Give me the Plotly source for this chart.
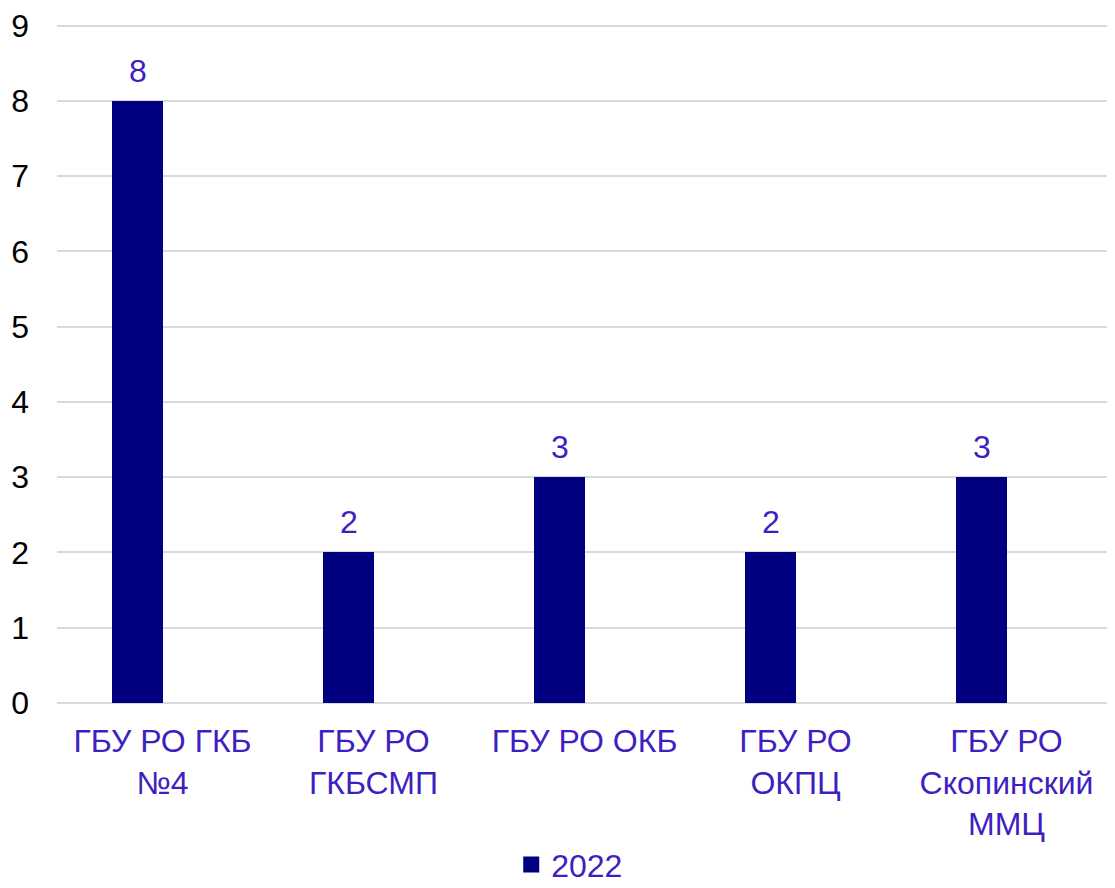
import plotly.graph_objects as go

categories = ["ГБУ РО ГКБ<br>№4", "ГБУ РО<br>ГКБСМП", "ГБУ РО ОКБ", "ГБУ РО<br>ОКПЦ", "ГБУ РО<br>Скопинский<br>ММЦ"]
values_2022 = [8, 2, 3, 2, 3]
series_name = "2022"
y_ticks = [0, 1, 2, 3, 4, 5, 6, 7, 8, 9]

BAR = "#000080"
TXT = "#3F1FBF"
FONT = "Liberation Sans, Arial, sans-serif"
FS = 32

fig = go.Figure()
fig.add_trace(go.Bar(
    x=categories, y=values_2022, name=series_name,
    marker=dict(color=BAR, line=dict(width=0)),
    width=0.237, offset=-0.237,
    showlegend=False,
))
# legend entry with a larger square swatch
fig.add_trace(go.Scatter(
    x=[None], y=[None], mode="markers", name=series_name,
    marker=dict(symbol="square", size=17, color=BAR),
    showlegend=True,
))
for c, v in zip(categories, values_2022):
    fig.add_annotation(x=c, y=v, text=str(v), showarrow=False,
                       xshift=-25, yshift=30, font=dict(color=TXT, size=FS, family=FONT))

fig.update_layout(
    width=1115, height=905,
    margin=dict(l=49, r=11, t=16, b=210),
    paper_bgcolor="white", plot_bgcolor="white",
    font=dict(family=FONT, size=FS, color="black"),
    showlegend=True,
    legend=dict(orientation="h", x=0.486, xanchor="center", y=-0.238, yanchor="middle",
                font=dict(color=TXT, size=FS, family=FONT), itemwidth=30),
    bargap=0,
)
fig.update_xaxes(showgrid=False, showline=False, ticks="", tickfont=dict(color=TXT, size=FS),
                 tickangle=0, automargin=False, ticklabelstandoff=16)
fig.update_yaxes(range=[0, 9.02], tickvals=y_ticks, showgrid=True, gridcolor="#d9d9d9", gridwidth=1.5,
                 zeroline=True, zerolinecolor="#d9d9d9", zerolinewidth=1.5,
                 tickfont=dict(color="black", size=FS), showline=False, ticks="",
                 automargin=False, ticklabelstandoff=27, ticklabeloverflow="allow")

fig.write_html("out.html")
